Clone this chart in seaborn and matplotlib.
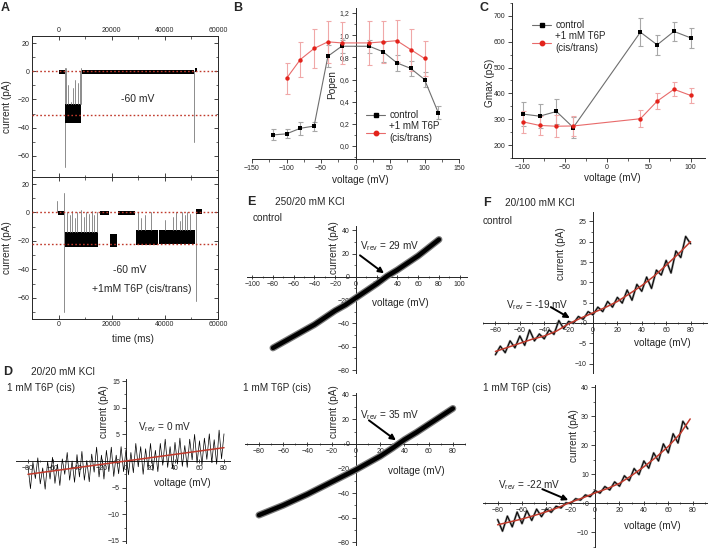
import numpy as np
import pandas as pd
import matplotlib
matplotlib.use("Agg")
import matplotlib.pyplot as plt
import seaborn as sns
from matplotlib.ticker import MultipleLocator, FuncFormatter
from matplotlib.lines import Line2D

# ======================= DATA =======================
# Panel A : single channel recordings (time ms, current pA)
a_top_levels = [0, -31]
a_bot_levels = [0, -22]
a_top_base_start = [0, 8800, 51400]
a_top_base_end = [2300, 51000, 52200]
a_top_base_level = [0, 0, 1]
a_top_band_start = [2600]
a_top_band_end = [8600]
a_top_band_low = [-37]
a_top_band_high = [-23]
a_top_spike_t = [2900, 3400, 4600, 5300, 6300, 7400, 7900, 8300]
a_top_spike_peak = [2, -10, -22, -12, -6, -8, 0, 2]
a_top_long_t = [2500, 51000]
a_top_long_hi = [2, 0]
a_top_long_lo = [-68, -50]

a_bot_base_start = [-400, 15600, 22300, 51800]
a_bot_base_end = [2000, 19000, 28600, 53800]
a_bot_base_level = [0, 0, 0, 1]
a_bot_band_start = [2500, 19200, 29000, 37700]
a_bot_band_end = [14800, 22100, 37500, 51400]
a_bot_band_low = [-24, -24, -23, -22]
a_bot_band_high = [-14, -15, -12, -12]
a_bot_spike_t = [3300, 4300, 5200, 6000, 7100, 8600, 9500, 10400, 11500, 12600,
                 13500, 14300, 29800, 31000, 32500, 34800, 40100, 42900, 44100,
                 45800, 46600, 47600, 48400, 49300]
a_bot_spike_peak = [0, -2, 1, -4, 0, 2, -3, 0, -1, 1, -2, 0, 0, -4, -2, 0, -5,
                    -3, 0, -6, 0, -2, 0, -1]
a_bot_long_t = [-500, 2200, 51600]
a_bot_long_hi = [8, 14, 0]
a_bot_long_lo = [0, -70, -62]

# Panel B : open probability
b_v = [-120, -100, -80, -60, -40, -20, 20, 40, 60, 80, 100, 120]
b_ctrl = [0.10, 0.11, 0.16, 0.18, 0.81, 0.90, 0.90, 0.85, 0.75, 0.70, 0.60, 0.30]
b_ctrl_err = [0.05, 0.04, 0.06, 0.04, 0.10, 0.06, 0.06, 0.09, 0.07, 0.07, 0.07, 0.06]
b_t6p_v = [-100, -80, -60, -40, -20, 20, 40, 60, 80, 100]
b_t6p = [0.61, 0.78, 0.88, 0.94, 0.93, 0.93, 0.94, 0.95, 0.87, 0.79]
b_t6p_err = [0.14, 0.16, 0.18, 0.19, 0.19, 0.20, 0.19, 0.19, 0.19, 0.16]

# Panel C : Gmax
c_v = [-100, -80, -60, -40, 40, 60, 80, 100]
c_ctrl = [320, 312, 330, 268, 637, 588, 640, 615]
c_ctrl_err = [48, 47, 48, 40, 55, 38, 37, 40]
c_t6p = [290, 276, 273, 274, 302, 370, 416, 392]
c_t6p_err = [42, 37, 42, 38, 33, 30, 27, 29]

# Panel D : 20/20 mM KCl, 1 mM T6P (cis)
d_v = list(range(-80, 81, 2))
d_i = [-1.0, -5.2, -0.2, -3.3, 0.6, -4.3, -1.3, -5.3, -0.1, -3.4, 0.7, -4.2, -0.6,
       -4.6, 0.4, -2.5, 1.6, -3.6, 0.0, -4.0, 1.2, -3.0, 1.8, -3.6, 0.1, -3.9, 1.3,
       -2.1, 2.6, -3.0, 1.1, -3.4, 2.0, -2.0, 2.6, -2.9, 1.1, -2.4, 2.7, -2.0, 2.1,
       -2.6, 1.6, -2.2, 3.3, -1.1, 2.7, -2.5, 2.3, -1.5, 3.3, -1.8, 2.0, -2.0, 3.3,
       -0.8, 4.1, -1.2, 2.7, -1.4, 3.5, -0.6, 4.3, -1.0, 2.9, -1.2, 4.1, 0.2, 5.0,
       -0.4, 3.8, -0.8, 4.3, 0.3, 5.1, -0.3, 4.0, -0.6, 5.8, 0.4, 5.1]
d_fit_v = [-80, 80]
d_fit_i = [-2.5, 2.5]
d_vrev = 0

# Panel E : 250/20 mM KCl
e_v = [-80, -70, -60, -50, -40, -30, -20, -10, 0, 10, 20, 30, 40, 50, 60, 70, 80]
e_ctrl_i = [-61, -56, -51, -46, -41, -35, -29, -24, -18, -12, -6, 0.6, 6, 12, 18, 25, 32]
e_t6p_i = [-58, -54, -50, -45.5, -41, -36, -31, -26, -21, -15.5, -10, -3.5, 3.5,
           9.5, 16, 22.5, 29]
e_ctrl_vrev = 29
e_t6p_vrev = 35

# Panel F : 20/100 mM KCl
f_fit_v = [-80, -70, -60, -50, -40, -30, -20, -10, 0, 10, 20, 30, 40, 50, 60, 70, 80]
f_ctrl_fit = [-7.0, -6.0, -5.0, -4.0, -3.2, -2.0, -0.2, 1.2, 2.5, 3.8, 5.3, 7.2,
              9.2, 11.5, 14.2, 17.0, 20.0]
f_ctrl_v = list(range(-80, 81, 4))
f_ctrl_i = [-7.8, -5.7, -7.3, -4.4, -6.1, -3.2, -5.5, -1.7, -4.4, -2.7, -3.9, -1.7,
            -2.8, 0.6, -1.4, 0.4, -0.1, 1.6, 0.9, 2.8, 2.0, 3.9, 2.8, 5.3, 3.9, 6.3,
            4.9, 8.1, 5.6, 9.5, 7.8, 11.3, 8.5, 13.0, 11.8, 15.4, 12.3, 17.7, 16.1,
            21.3, 19.5]
f_t6p_fit_v = [-80, -70, -60, -50, -40, -30, -20, -10, 0, 10, 20, 30, 40, 50, 60, 70, 78]
f_t6p_fit = [-7.5, -6.5, -5.5, -4.3, -3.0, -1.5, 0.3, 1.8, 3.5, 5.0, 6.8, 9.5,
             12.5, 15.8, 19.5, 24.0, 29.0]
f_t6p_v = list(range(-80, 77, 4))
f_t6p_i = [-5.7, -9.7, -4.5, -8.2, -3.1, -7.1, -2.6, -6.0, -2.1, -4.7, -2.0, -3.2,
           -1.1, -1.7, 0.1, -0.2, 1.5, 1.0, 2.8, 2.2, 4.3, 3.4, 5.7, 4.5, 7.3, 5.8,
           9.4, 7.7, 11.9, 9.8, 14.5, 12.0, 17.3, 14.5, 20.4, 17.3, 23.9, 20.7, 28.2,
           25.6]
f_ctrl_vrev = -19
f_t6p_vrev = -22

# ======================= STYLE =======================
sns.set_style("ticks")
plt.rcParams['font.family'] = ['Liberation Sans', 'DejaVu Sans']
plt.rcParams['mathtext.fontset'] = 'custom'
plt.rcParams['mathtext.rm'] = 'Liberation Sans'
plt.rcParams['mathtext.it'] = 'Liberation Sans'
plt.rcParams['axes.linewidth'] = 0.7

W, H = 713, 548
fig = plt.figure(figsize=(W / 100, H / 100), dpi=100)
fig.patch.set_facecolor('white')

TICK = 5.0
LAB = 7.2
RED = '#e3231b'
DOT_RED = '#c0392b'


def add_ax(x0, y0, x1, y1):
    return fig.add_axes([x0 / W, 1 - y1 / H, (x1 - x0) / W, (y1 - y0) / H])


def ftext(x, y, s, **kw):
    kw.setdefault('fontsize', LAB)
    kw.setdefault('va', 'center')
    fig.text(x / W, 1 - y / H, s, **kw)


def style_ticks(ax, xdir='out', ydir='out'):
    ax.tick_params(axis='x', which='major', labelsize=TICK, length=3, width=0.6,
                   direction=xdir, pad=1.5)
    ax.tick_params(axis='x', which='minor', length=1.8, width=0.5, direction=xdir)
    ax.tick_params(axis='y', which='major', labelsize=TICK, length=3, width=0.6,
                   direction=ydir, pad=1.5)
    ax.tick_params(axis='y', which='minor', length=1.8, width=0.5, direction=ydir)


# ======================= PANEL A =======================
def draw_trace(ax, base_s, base_e, base_l, band_s, band_e, band_lo, band_hi,
               sp_t, sp_peak, band_for_spike, long_t, long_hi, long_lo):
    for t, hi, lo in zip(long_t, long_hi, long_lo):
        ax.plot([t, t], [lo, hi], color='#8c8c8c', lw=0.7, zorder=2)
    for s, e, lo, hi in zip(band_s, band_e, band_lo, band_hi):
        ax.fill_between([s, e], [lo, lo], [hi, hi], color='black', lw=0, zorder=3)
    for t, p in zip(sp_t, sp_peak):
        ax.plot([t, t], [band_for_spike(t), p], color='#7a7a7a', lw=0.6, zorder=3)
    for s, e, l in zip(base_s, base_e, base_l):
        ax.fill_between([s, e], [l - 1.8, l - 1.8], [l + 1.2, l + 1.2],
                        color='black', lw=0, zorder=3)


def band_lookup(band_s, band_e, band_hi):
    def f(t):
        for s, e, h in zip(band_s, band_e, band_hi):
            if s <= t <= e:
                return h
        return 0
    return f


axA1 = add_ax(32, 36, 218, 177)
axA2 = add_ax(32, 177, 218, 319)
for ax in (axA1, axA2):
    ax.set_xlim(-10000, 60000)
    ax.set_ylim(-75, 25)
    ax.xaxis.set_major_locator(MultipleLocator(20000))
    ax.xaxis.set_minor_locator(MultipleLocator(10000))
    ax.yaxis.set_major_locator(MultipleLocator(20))
    ax.yaxis.set_minor_locator(MultipleLocator(10))
    style_ticks(ax, 'in', 'in')
    ax.tick_params(top=True, right=True, which='both')
    for sp in ax.spines.values():
        sp.set_visible(True)
        sp.set_linewidth(0.7)
    ax.set_xlabel('')
    ax.set_ylabel('')

axA1.tick_params(labeltop=True, labelbottom=False)
axA2.tick_params(labeltop=False, labelbottom=True)

draw_trace(axA1, a_top_base_start, a_top_base_end, a_top_base_level,
           a_top_band_start, a_top_band_end, a_top_band_low, a_top_band_high,
           a_top_spike_t, a_top_spike_peak,
           band_lookup(a_top_band_start, a_top_band_end, a_top_band_high),
           a_top_long_t, a_top_long_hi, a_top_long_lo)
draw_trace(axA2, a_bot_base_start, a_bot_base_end, a_bot_base_level,
           a_bot_band_start, a_bot_band_end, a_bot_band_low, a_bot_band_high,
           a_bot_spike_t, a_bot_spike_peak,
           band_lookup(a_bot_band_start, a_bot_band_end, a_bot_band_high),
           a_bot_long_t, a_bot_long_hi, a_bot_long_lo)
for lvl in a_top_levels:
    axA1.axhline(lvl, color=DOT_RED, ls=(0, (1.2, 1.6)), lw=1.0, zorder=4)
for lvl in a_bot_levels:
    axA2.axhline(lvl, color=DOT_RED, ls=(0, (1.2, 1.6)), lw=1.0, zorder=4)

ftext(138, 99, '-60 mV', ha='center', fontsize=7.5)
ftext(130, 270, '-60 mV', ha='center', fontsize=7.5)
ftext(142, 289, '+1mM T6P (cis/trans)', ha='center', fontsize=7.5)
ftext(7, 107, 'current (pA)', rotation=90, ha='center')
ftext(7, 248, 'current (pA)', rotation=90, ha='center')
ftext(133, 339, 'time (ms)', ha='center')
ftext(1, 8, 'A', fontsize=9, fontweight='bold', ha='left')

# ======================= PANEL B =======================
axB = add_ax(252, 8, 459, 159)
axB.set_xlim(-150, 150)
axB.set_ylim(-0.117, 1.245)
axB.spines['left'].set_position(('data', 0))
axB.spines['top'].set_visible(False)
axB.spines['right'].set_visible(False)
axB.xaxis.set_major_locator(MultipleLocator(50))
axB.xaxis.set_minor_locator(MultipleLocator(25))
axB.yaxis.set_major_locator(MultipleLocator(0.2))
axB.yaxis.set_minor_locator(MultipleLocator(0.1))
axB.yaxis.set_major_formatter(FuncFormatter(lambda v, p: f"{v:.1f}".replace('.', ',')))
style_ticks(axB)

dfB1 = pd.DataFrame({'v': b_v, 'p': b_ctrl})
dfB2 = pd.DataFrame({'v': b_t6p_v, 'p': b_t6p})
axB.errorbar(b_v, b_ctrl, yerr=b_ctrl_err, fmt='none', ecolor='#a8a8a8',
             elinewidth=0.8, capsize=1.8, capthick=0.8, zorder=2)
axB.errorbar(b_t6p_v, b_t6p, yerr=b_t6p_err, fmt='none', ecolor='#f0a8a8',
             elinewidth=0.8, capsize=1.8, capthick=0.8, zorder=2)
sns.lineplot(data=dfB1, x='v', y='p', ax=axB, color='#6e6e6e', lw=0.8, zorder=3)
sns.lineplot(data=dfB2, x='v', y='p', ax=axB, color='#e86a6a', lw=0.8, zorder=3)
sns.scatterplot(data=dfB1, x='v', y='p', ax=axB, marker='s', color='black', s=8,
                edgecolor='black', lw=0, zorder=4)
sns.scatterplot(data=dfB2, x='v', y='p', ax=axB, marker='o', color=RED, s=10,
                edgecolor=RED, lw=0, zorder=4)
axB.set_xlabel('')
axB.set_ylabel('')
hB = [Line2D([], [], color='#6e6e6e', lw=0.8, marker='s', mfc='black', mec='black', ms=2.8),
      Line2D([], [], color='#e86a6a', lw=0.8, marker='o', mfc=RED, mec=RED, ms=3.2)]
axB.legend(hB, ['control', '+1 mM T6P\n(cis/trans)'], loc='upper left',
           bbox_to_anchor=(366 / W, 1 - 110 / H), bbox_transform=fig.transFigure,
           frameon=False, fontsize=7, handlelength=2.0, handletextpad=0.4,
           labelspacing=0.15, borderpad=0, borderaxespad=0)
ftext(332, 85, 'Popen', rotation=90, ha='center')
ftext(360, 180, 'voltage (mV)', ha='center')
ftext(233, 8, 'B', fontsize=9, fontweight='bold', ha='left')

# ======================= PANEL C =======================
axC = add_ax(512, 3, 705, 158)
axC.set_xlim(-113, 117)
axC.set_ylim(150, 750)
axC.spines['top'].set_visible(False)
axC.spines['right'].set_visible(False)
axC.xaxis.set_major_locator(MultipleLocator(50))
axC.xaxis.set_minor_locator(MultipleLocator(25))
axC.yaxis.set_major_locator(MultipleLocator(100))
axC.yaxis.set_minor_locator(MultipleLocator(50))
axC.set_yticks([200, 300, 400, 500, 600, 700])
style_ticks(axC)
dfC1 = pd.DataFrame({'v': c_v, 'g': c_ctrl})
dfC2 = pd.DataFrame({'v': c_v, 'g': c_t6p})
axC.errorbar(c_v, c_ctrl, yerr=c_ctrl_err, fmt='none', ecolor='#a8a8a8',
             elinewidth=0.8, capsize=1.8, capthick=0.8, zorder=2)
axC.errorbar(c_v, c_t6p, yerr=c_t6p_err, fmt='none', ecolor='#f0a8a8',
             elinewidth=0.8, capsize=1.8, capthick=0.8, zorder=2)
sns.lineplot(data=dfC1, x='v', y='g', ax=axC, color='#6e6e6e', lw=0.8, zorder=3)
sns.lineplot(data=dfC2, x='v', y='g', ax=axC, color='#e86a6a', lw=0.8, zorder=3)
sns.scatterplot(data=dfC1, x='v', y='g', ax=axC, marker='s', color='black', s=8,
                edgecolor='black', lw=0, zorder=4)
sns.scatterplot(data=dfC2, x='v', y='g', ax=axC, marker='o', color=RED, s=10,
                edgecolor=RED, lw=0, zorder=4)
axC.set_xlabel('')
axC.set_ylabel('')
axC.legend(hB, ['control', '+1 mM T6P\n(cis/trans)'], loc='upper left',
           bbox_to_anchor=(532 / W, 1 - 20 / H), bbox_transform=fig.transFigure,
           frameon=False, fontsize=7, handlelength=2.0, handletextpad=0.4,
           labelspacing=0.15, borderpad=0, borderaxespad=0)
ftext(490, 83, 'Gmax (pS)', rotation=90, ha='center')
ftext(612, 178, 'voltage (mV)', ha='center')
ftext(480, 8, 'C', fontsize=9, fontweight='bold', ha='left')


# ======================= IV PANELS =======================
def iv_axes(x0, y0, x1, y1, xlim, ylim, xmaj, ymaj, xmin, ymin):
    ax = add_ax(x0, y0, x1, y1)
    ax.set_xlim(*xlim)
    ax.set_ylim(*ylim)
    ax.spines['left'].set_position(('data', 0))
    ax.spines['bottom'].set_position(('data', 0))
    ax.spines['top'].set_visible(False)
    ax.spines['right'].set_visible(False)
    ax.set_xticks(xmaj)
    ax.set_yticks(ymaj)
    ax.xaxis.set_minor_locator(MultipleLocator(xmin))
    ax.yaxis.set_minor_locator(MultipleLocator(ymin))
    style_ticks(ax, 'inout', 'out')
    ax.patch.set_alpha(0)
    return ax


def vrev_arrow(ax, vrev, yhead, dx, dy):
    ax.annotate('', xy=(vrev, yhead), xytext=(dx, dy), textcoords='offset pixels',
                arrowprops=dict(arrowstyle='-|>', color='black', lw=1.4,
                                mutation_scale=8, shrinkA=0, shrinkB=0), zorder=6)


# ---- D ----
axD = iv_axes(16, 379, 230, 543, (-89.8, 84.9), (-15.4, 15.4),
              list(range(-80, 81, 20)), [-15, -10, -5, 0, 5, 10, 15], 10, 2.5)
sns.lineplot(x=d_v, y=d_i, ax=axD, color='black', lw=0.5, estimator=None, sort=False,
             zorder=3)
sns.lineplot(x=d_fit_v, y=d_fit_i, ax=axD, color='#c0392b', lw=1.1, estimator=None,
             zorder=4)
ftext(3, 372, 'D', fontsize=9, fontweight='bold', ha='left')
ftext(31, 372, '20/20 mM KCl', ha='left')
ftext(7, 388, '1 mM T6P (cis)', ha='left')
ftext(104, 412, 'current (pA)', rotation=90, ha='center')
ftext(182, 483, 'voltage (mV)', ha='center')
ftext(138, 427, r'V$_{\rm rev}$ = %d mV' % d_vrev, ha='left')

# ---- E top ----
axE1 = iv_axes(247, 226, 467, 373, (-105, 107), (-82.5, 43.6),
               list(range(-100, 101, 20)), [-80, -60, -40, -20, 0, 20, 40], 10, 10)
sns.lineplot(x=e_v, y=e_ctrl_i, ax=axE1, color='#7a7a7a', lw=5.0, estimator=None,
             zorder=3)
sns.lineplot(x=e_v, y=e_ctrl_i, ax=axE1, color='black', lw=3.2, estimator=None,
             zorder=3)
vrev_arrow(axE1, e_ctrl_vrev - 2, 3, -24, 18)
ftext(247, 202, 'E', fontsize=9, fontweight='bold', ha='left')
ftext(275, 202, '250/20 mM KCl', ha='left')
ftext(253, 218, 'control', ha='left')
ftext(334, 248, 'current (pA)', rotation=90, ha='center')
ftext(400, 303, 'voltage (mV)', ha='center')
ftext(360, 246, r'V$_{\rm rev}$ = %d mV' % e_ctrl_vrev, ha='left')

# ---- E bottom ----
axE2 = iv_axes(245, 393, 465, 545, (-91.5, 90), (-82.4, 41.6),
               list(range(-80, 81, 20)), [-80, -60, -40, -20, 0, 20, 40], 10, 10)
sns.lineplot(x=e_v, y=e_t6p_i, ax=axE2, color='#7a7a7a', lw=5.0, estimator=None,
             zorder=3)
sns.lineplot(x=e_v, y=e_t6p_i, ax=axE2, color='black', lw=3.2, estimator=None,
             zorder=3)
vrev_arrow(axE2, e_t6p_vrev - 2, 3, -27, 20)
ftext(243, 388, '1 mM T6P (cis)', ha='left')
ftext(334, 412, 'current (pA)', rotation=90, ha='center')
ftext(416, 471, 'voltage (mV)', ha='center')
ftext(360, 415, r'V$_{\rm rev}$ = %d mV' % e_t6p_vrev, ha='left')

# ---- F top ----
axF1 = iv_axes(483, 212, 707, 373, (-90.2, 93.5), (-12.3, 27.3),
               list(range(-80, 81, 20)), [-10, -5, 0, 5, 10, 15, 20, 25], 10, 2.5)
sns.lineplot(x=f_ctrl_v, y=f_ctrl_i, ax=axF1, color='#8a8a8a', lw=1.6,
             estimator=None, zorder=3)
sns.lineplot(x=f_ctrl_v, y=f_ctrl_i, ax=axF1, color='black', lw=0.7,
             estimator=None, zorder=3)
sns.lineplot(x=f_fit_v, y=f_ctrl_fit, ax=axF1, color='#c0392b', lw=1.1,
             estimator=None, zorder=4)
vrev_arrow(axF1, f_ctrl_vrev, 1.2, -19, 11)
ftext(483, 203, 'F', fontsize=9, fontweight='bold', ha='left')
ftext(505, 203, '20/100 mM KCl', ha='left')
ftext(483, 221, 'control', ha='left')
ftext(561, 254, 'current (pA)', rotation=90, ha='center')
ftext(662, 343, 'voltage (mV)', ha='center')
ftext(506, 305, r'V$_{\rm rev}$ = %d mV' % f_ctrl_vrev, ha='left')

# ---- F bottom ----
axF2 = iv_axes(483, 385, 707, 548, (-92, 91.8), (-15.5, 40.7),
               list(range(-80, 81, 20)), [-10, 0, 10, 20, 30, 40], 10, 5)
sns.lineplot(x=f_t6p_v, y=f_t6p_i, ax=axF2, color='#8a8a8a', lw=1.6,
             estimator=None, zorder=3)
sns.lineplot(x=f_t6p_v, y=f_t6p_i, ax=axF2, color='black', lw=0.7,
             estimator=None, zorder=3)
sns.lineplot(x=f_t6p_fit_v, y=f_t6p_fit, ax=axF2, color='#c0392b', lw=1.1,
             estimator=None, zorder=4)
vrev_arrow(axF2, f_t6p_vrev, 1.0, -26, 11)
ftext(483, 388, '1 mM T6P (cis)', ha='left')
ftext(574, 436, 'current (pA)', rotation=90, ha='center')
ftext(652, 526, 'voltage (mV)', ha='center')
ftext(498, 485, r'V$_{\rm rev}$ = %d mV' % f_t6p_vrev, ha='left')

for ax in (axD, axE1, axE2, axF1, axF2):
    ax.set_xlabel('')
    ax.set_ylabel('')

fig.savefig('out.png', dpi=100)
